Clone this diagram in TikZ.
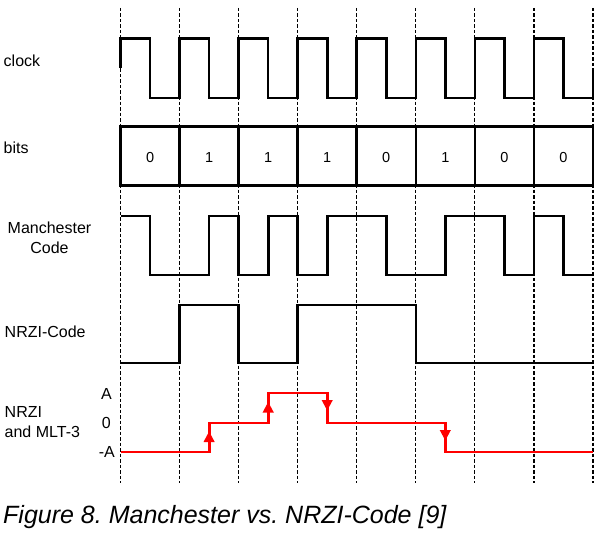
\documentclass[tikz,border=0pt]{standalone}
\usepackage{fontspec}
\setmainfont{Liberation Sans}
\frenchspacing
\begin{document}
\begin{tikzpicture}[x=1pt,y=-1pt,
  sig/.style={line width=2.6pt, line join=miter},
  gridline/.style={line width=1.2pt, dash pattern=on 3.5pt off 2pt},
  mlt/.style={line width=2.8pt, red, line join=miter},
  tipmark/.style={fill=red, draw=none},
  lbl/.style={font=\fontsize{16}{20}\selectfont, inner sep=0pt},
  bitlbl/.style={font=\fontsize{14.5}{17}\selectfont, inner sep=0pt, anchor=base},
  captionstyle/.style={font=\fontsize{25}{30}\selectfont\itshape, inner sep=0pt, anchor=base west}]
\useasboundingbox (0,0) rectangle (601,532);
\def\P{59.06}
% dashed time grid
\foreach \i in {0,...,8}{
  \draw[gridline] ({120.5+\i*\P},8) -- ({120.5+\i*\P},483);
}
% clock
\draw[sig] (120.5,68) \foreach \i in {0,...,7}{
   -- ({120.5+\i*\P},38.5) -- ({120.5+\i*\P+\P/2},38.5)
   -- ({120.5+\i*\P+\P/2},98) -- ({120.5+(\i+1)*\P},98) } -- ({120.5+8*\P},68);
% bits
\draw[sig] (120.5,126.7) rectangle ({120.5+8*\P},185.7);
\foreach \i in {1,...,7}{
  \draw[sig] ({120.5+\i*\P},126.7) -- ({120.5+\i*\P},185.7);
}
\foreach \b [count=\k from 0] in {0,1,1,1,0,1,0,0}{
  \node[bitlbl] (bit\k) at ({120.5+\k*\P+\P/2},162) {\b};
}
% Manchester
\draw[sig] (120.5,216) -- (150,216) -- (150,275) -- (209.1,275) -- (209.1,216)
  -- (238.6,216) -- (238.6,275) -- (268.2,275) -- (268.2,216) -- (297.7,216)
  -- (297.7,275) -- (327.2,275) -- (327.2,216) -- (386.3,216) -- (386.3,275)
  -- (445.3,275) -- (445.3,216) -- (504.4,216) -- (504.4,275) -- (533.9,275)
  -- (533.9,216) -- (563.5,216) -- (563.5,275) -- (593,275);
% NRZI
\draw[sig] (120.5,363) -- (179.6,363) -- (179.6,305) -- (238.6,305) -- (238.6,363)
  -- (297.7,363) -- (297.7,305) -- (415.8,305) -- (415.8,363) -- (593,363);
% MLT-3
\draw[mlt] (120.5,452) -- (209.1,452) -- (209.1,423) -- (268.2,423) -- (268.2,393)
  -- (327.2,393) -- (327.2,423) -- (445.3,423) -- (445.3,452) -- (593,452);
\fill[tipmark] (203.5,442) -- (214.7,442) -- (209.1,431.5) -- cycle;
\fill[tipmark] (262.6,412.5) -- (273.8,412.5) -- (268.2,402) -- cycle;
\fill[tipmark] (321.6,400) -- (332.8,400) -- (327.2,410.5) -- cycle;
\fill[tipmark] (439.7,430) -- (450.9,430) -- (445.3,440.5) -- cycle;
% labels
\node[lbl, anchor=base west] (lclock) at (3.5,67) {clock};
\node[lbl, anchor=base west] (lbits) at (3.5,153) {bits};
\node[lbl, anchor=base, align=center] (lman) at (49.5,253) {Manchester\\Code};
\node[lbl, anchor=base west] (lnrzi) at (4.5,337) {NRZI-Code};
\node[lbl, anchor=base west, align=left] (lmlt) at (4.5,437) {NRZI\\and MLT-3};
\node[lbl, anchor=base east] (lA) at (112,399) {A};
\node[lbl, anchor=base east] (l0) at (111,428) {0};
\node[lbl, anchor=base east] (lmA) at (115,457) {-A};
% caption
\node[captionstyle] (caption) at (3,523) {Figure 8. Manchester vs. NRZI-Code [9]};
\end{tikzpicture}
\end{document}
